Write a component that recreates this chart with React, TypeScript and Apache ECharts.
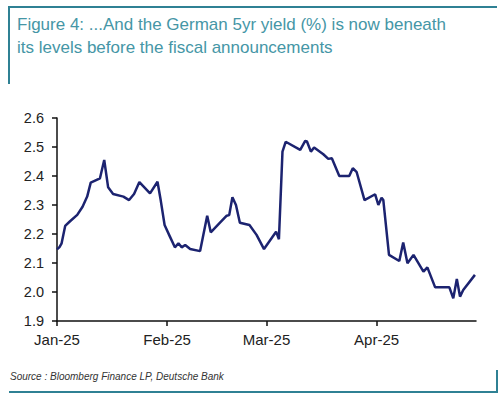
import React, { useEffect, useRef } from "react";
import * as echarts from "echarts";

// Day offset from 1 Jan 2025, German 5yr yield (%)
const days = [
  0, 0.7, 1.3, 2.3, 3.6, 5.7, 7.2, 8.5, 9.5, 12.1, 13.3, 14.4, 15.8, 18.7, 20.3, 21.7, 23.2, 26.2, 28.3, 29.2,
  30.3, 31.8, 33.2, 34.2, 35.1, 36.1, 37.5, 40.3, 42.3, 43.3, 45.9, 47.8, 48.5, 49.4, 50.4, 51.5, 54.2, 56.2,
  58.3, 61.7, 62.5, 63.5, 64.4, 68.5, 69.9, 70.4, 71.5, 72.4, 75.0, 76.4, 77.4, 79.5, 82.3, 83.3, 84.4, 86.6,
  89.6, 90.5, 91.4, 91.9, 93.5, 96.4, 97.5, 98.7, 100.4, 103.2, 104.3, 106.5, 110.5, 111.6, 112.6, 113.5, 114.4,
  117.7,
];
const yields = [
  2.147, 2.155, 2.168, 2.228, 2.243, 2.266, 2.294, 2.329, 2.377, 2.392, 2.455, 2.361, 2.338, 2.329, 2.317, 2.338,
  2.379, 2.34, 2.38, 2.317, 2.231, 2.191, 2.154, 2.168, 2.154, 2.162, 2.148, 2.141, 2.263, 2.206, 2.239, 2.263,
  2.265, 2.327, 2.3, 2.239, 2.231, 2.197, 2.148, 2.208, 2.182, 2.484, 2.518, 2.49, 2.521, 2.519, 2.484, 2.498,
  2.475, 2.459, 2.461, 2.4, 2.4, 2.427, 2.413, 2.317, 2.337, 2.3, 2.325, 2.317, 2.128, 2.107, 2.171, 2.099, 2.128,
  2.07, 2.085, 2.016, 2.016, 1.978, 2.045, 1.984, 2.007, 2.059,
];
const monthTicks = [0, 31, 59, 90];
const monthLabels = ["Jan-25", "Feb-25", "Mar-25", "Apr-25"];
const yTicks = [1.9, 2.0, 2.1, 2.2, 2.3, 2.4, 2.5, 2.6];

const titleLines = [
  "Figure 4: ...And the German 5yr yield (%) is now beneath",
  "its levels before the fiscal announcements",
];
const sourceText = "Source : Bloomberg Finance LP, Deutsche Bank";

export default function App() {
  const ref = useRef<HTMLDivElement>(null);
  useEffect(() => {
    document.body.style.margin = "0";
    const chart = echarts.init(ref.current!, null, { renderer: "svg" });
    const frame = "#2f8194";
    chart.setOption({
      animation: false,
      backgroundColor: "#ffffff",
      grid: { left: 57, right: 24, top: 118, bottom: 77 },
      xAxis: {
        type: "value",
        min: 0,
        max: 118,
        axisLine: { show: true, lineStyle: { color: "#111", width: 1.5 } },
        axisTick: { show: true, customValues: monthTicks, length: 5, lineStyle: { color: "#111", width: 1.5 } },
        axisLabel: {
          customValues: monthTicks,
          formatter: (v: number) => monthLabels[monthTicks.indexOf(Math.round(v))] ?? "",
          color: "#222",
          fontSize: 15,
          fontFamily: "Liberation Sans",
          margin: 11,
        },
        splitLine: { show: false },
      },
      yAxis: {
        type: "value",
        min: 1.9,
        max: 2.6,
        axisLine: { show: true, lineStyle: { color: "#111", width: 1.5 } },
        axisTick: { show: true, customValues: yTicks, length: 5, lineStyle: { color: "#111", width: 1.5 } },
        axisLabel: {
          customValues: yTicks,
          formatter: (v: number) => v.toFixed(1),
          color: "#222",
          fontSize: 14.5,
          fontFamily: "Liberation Sans",
          margin: 13,
        },
        splitLine: { show: false },
      },
      series: [
        {
          type: "line",
          data: days.map((d, i) => [d, yields[i]]),
          showSymbol: false,
          lineStyle: { color: "#1c2370", width: 2.5 },
          itemStyle: { color: "#1c2370" },
        },
      ],
      graphic: [
        { type: "line", shape: { x1: 9, y1: 7, x2: 497, y2: 7 }, style: { stroke: frame, lineWidth: 2 } },
        { type: "line", shape: { x1: 9, y1: 6, x2: 9, y2: 84 }, style: { stroke: frame, lineWidth: 2 } },
        { type: "line", shape: { x1: 9, y1: 392, x2: 498, y2: 392 }, style: { stroke: frame, lineWidth: 2 } },
        { type: "line", shape: { x1: 497, y1: 370, x2: 497, y2: 393 }, style: { stroke: frame, lineWidth: 2 } },
        {
          type: "text",
          left: 17,
          top: 16,
          style: { text: titleLines[0], fill: "#4596a6", fontSize: 17, fontFamily: "Liberation Sans" },
        },
        {
          type: "text",
          left: 17,
          top: 39,
          style: { text: titleLines[1], fill: "#4596a6", fontSize: 17, fontFamily: "Liberation Sans" },
        },
        {
          type: "text",
          left: 10,
          top: 371,
          style: { text: sourceText, fill: "#333", fontSize: 10, fontStyle: "italic", fontFamily: "Liberation Sans" },
        },
      ],
    });
    return () => chart.dispose();
  }, []);
  return <div ref={ref} style={{ position: "fixed", left: 0, top: 0, width: 500, height: 398 }} />;
}
